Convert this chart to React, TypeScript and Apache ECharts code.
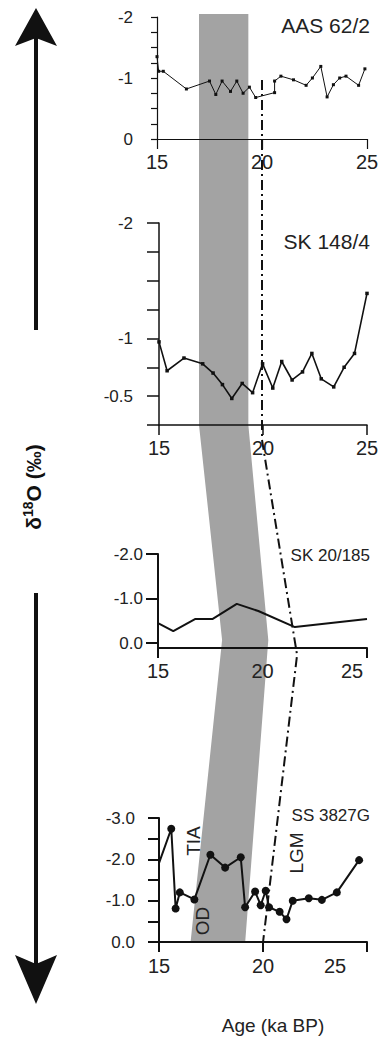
import React, { useEffect, useRef } from 'react';
import * as echarts from 'echarts';

// ---------- data ----------
const ageAAS = [15.0, 15.08, 15.3, 16.4, 17.5, 17.8, 18.1, 18.5, 18.8, 19.1, 19.4, 19.7, 20.6, 20.6, 20.9, 21.5, 22.1, 22.4, 22.8, 23.1, 23.4, 23.7, 24.0, 24.6, 24.9];
const d18OAAS = [-1.35, -1.11, -1.11, -0.82, -0.95, -0.73, -0.95, -0.78, -0.95, -0.75, -0.85, -0.68, -0.76, -0.95, -1.03, -0.97, -0.88, -1.0, -1.19, -0.69, -0.89, -1.0, -1.03, -0.88, -1.15];

const ageSK148 = [15.0, 15.39, 16.2, 17.1, 17.6, 18.05, 18.5, 19.0, 19.5, 19.98, 20.47, 20.9, 21.4, 21.9, 22.35, 22.8, 23.4, 23.9, 24.4, 25.0];
const d18OSK148 = [-0.97, -0.72, -0.83, -0.78, -0.7, -0.6, -0.48, -0.61, -0.53, -0.78, -0.57, -0.8, -0.64, -0.71, -0.87, -0.65, -0.58, -0.75, -0.87, -1.39];

const ageSK20 = [15.0, 15.73, 16.77, 17.6, 18.77, 19.8, 21.55, 25.0];
const d18OSK20 = [-0.45, -0.27, -0.54, -0.54, -0.88, -0.72, -0.36, -0.54];

const ageSS = [15.0, 15.59, 15.8, 16.0, 16.7, 17.47, 18.18, 18.93, 19.14, 19.62, 19.89, 20.13, 20.29, 20.8, 21.13, 21.43, 22.2, 22.83, 23.55, 24.62];
const d18OSS = [-1.91, -2.74, -0.81, -1.2, -1.03, -2.11, -1.8, -2.05, -0.84, -1.22, -0.89, -1.24, -0.84, -0.73, -0.55, -1.0, -1.06, -1.02, -1.2, -1.98];

const coreNames = ['AAS 62/2', 'SK 148/4', 'SK 20/185', 'SS 3827G'];
const xTickLabels = [15, 20, 25];
const yTicks1 = [-2, -1.75, -1.5, -1.25, -1, -0.75, -0.5, -0.25, 0];
const yLabels1 = [-2, -1, 0];
const yTicks2 = [-2, -1.75, -1.5, -1.25, -1, -0.75, -0.5, -0.25];
const yLabels2 = [-2, -1, -0.5];
const yTicks3 = [-2, -1, 0];
const yTicks4 = [-3, -2.5, -2, -1.5, -1, -0.5, 0];
const yLabels4 = [-3, -2, -1, 0];

// shaded TIA/OD band and LGM line (ages), with their vertical layout anchors
const bandLeftAge = [17.0, 17.0, 18.1, 16.6];
const bandRightAge = [19.35, 19.35, 20.3, 19.2];
const bandY = [14, 425, 640, 942];
const lgmAge = [20.0, 20.0, 21.67, 20.05];
const lgmY = [80, 440, 655, 942];

const FONT = '"Liberation Sans", Arial, Helvetica, sans-serif';
const INK = '#111';

function xAxis(gridIndex: number, ticks: number[], lw: number, shift25: number, labelMargin: number) {
  return {
    type: 'value',
    gridIndex,
    min: 15,
    max: 25,
    axisLine: { show: true, onZero: false, lineStyle: { color: INK, width: lw } },
    axisTick: { show: true, length: 10, customValues: ticks, lineStyle: { color: INK, width: lw } },
    axisLabel: {
      customValues: xTickLabels,
      margin: labelMargin,
      fontSize: 20,
      fontFamily: FONT,
      color: '#222',
      formatter: (v: number) => (v === 25 && shift25 > 0 ? '{s|25}' : String(v)),
      rich: { s: { fontSize: 20, fontFamily: FONT, color: '#222', padding: [0, shift25 * 2, 0, 0] } },
    },
    splitLine: { show: false },
  };
}

function yAxis(gridIndex: number, min: number, max: number, ticks: number[], labels: number[], tickLen: number, margin: number, lw: number, fixed: boolean) {
  return {
    type: 'value',
    gridIndex,
    min,
    max,
    inverse: true,
    axisLine: { show: true, onZero: false, lineStyle: { color: INK, width: lw } },
    axisTick: { show: true, length: tickLen, customValues: ticks, lineStyle: { color: INK, width: lw } },
    axisLabel: {
      customValues: labels,
      margin,
      fontSize: 17,
      fontFamily: FONT,
      color: '#222',
      formatter: (v: number) => (fixed ? v.toFixed(1) : String(v)),
    },
    splitLine: { show: false },
  };
}

const zip = (a: number[], b: number[]) => a.map((x, i) => [x, b[i]]);

export default function App() {
  const ref = useRef<HTMLDivElement>(null);
  useEffect(() => {
    document.body.style.margin = '0';
    const el = ref.current!;
    const chart = echarts.init(el, undefined, { renderer: 'svg' });
    chart.setOption({
      animation: false,
      backgroundColor: '#fff',
      grid: [
        { left: 157, top: 17, width: 210, height: 122 },
        { left: 159, top: 223, width: 208, height: 202 },
        { left: 158, top: 554, width: 209, height: 94 },
        { left: 159, top: 818, width: 208, height: 124 },
      ],
      xAxis: [
        xAxis(0, [15, 20, 25], 1.2, 0, 13),
        xAxis(1, [15, 20, 25], 1.5, 0, 13),
        xAxis(2, [15, 25], 2, 15, 13),
        xAxis(3, [15, 20, 25], 2, 32, 14),
      ],
      yAxis: [
        yAxis(0, -2, 0, yTicks1, yLabels1, 6, 24, 1.2, false),
        yAxis(1, -2, -0.25, yTicks2, yLabels2, 12, 26, 1.5, false),
        yAxis(2, -2, 0.11, yTicks3, yTicks3, 12, 15, 2, true),
        yAxis(3, -3, 0, yTicks4, yLabels4, 11, 24, 2, true),
      ],
      series: [
        {
          type: 'line', xAxisIndex: 0, yAxisIndex: 0, data: zip(ageAAS, d18OAAS),
          symbol: 'rect', symbolSize: 3, showAllSymbol: true,
          lineStyle: { color: INK, width: 1 }, itemStyle: { color: INK }, z: 5,
        },
        {
          type: 'line', xAxisIndex: 1, yAxisIndex: 1, data: zip(ageSK148, d18OSK148),
          symbol: 'rect', symbolSize: 3.5, showAllSymbol: true,
          lineStyle: { color: INK, width: 1.6 }, itemStyle: { color: INK }, z: 5,
        },
        {
          type: 'line', xAxisIndex: 2, yAxisIndex: 2, data: zip(ageSK20, d18OSK20),
          symbol: 'none', lineStyle: { color: INK, width: 2 }, z: 5,
        },
        {
          type: 'line', xAxisIndex: 3, yAxisIndex: 3,
          data: ageSS.map((a, i) => (i === 0 ? { value: [a, d18OSS[i]], symbol: 'none' } : [a, d18OSS[i]])),
          symbol: 'circle', symbolSize: 8, showAllSymbol: true,
          lineStyle: { color: INK, width: 2 }, itemStyle: { color: INK }, z: 5,
        },
      ],
    });

    const px = (a: number) => chart.convertToPixel({ xAxisIndex: 0 }, a) as unknown as number;
    const bandPts: number[][] = [];
    bandLeftAge.forEach((a, i) => bandPts.push([px(a), bandY[i]]));
    for (let i = bandRightAge.length - 1; i >= 0; i--) bandPts.push([px(bandRightAge[i]), bandY[i]]);
    const lgmPts = lgmAge.map((a, i) => [px(a), lgmY[i]]);

    const titleY = [25, 241, 555, 815];
    const titleSize = [21, 21, 17, 17];
    const tStyle = (s: number) => ({ fontFamily: FONT, fontSize: s, fill: '#222' });

    chart.setOption({
      graphic: [
        { type: 'polygon', z: -10, shape: { points: bandPts }, style: { fill: '#a3a3a3' } },
        { type: 'polyline', z: 20, shape: { points: lgmPts }, style: { stroke: INK, lineWidth: 2, lineDash: [10, 4, 2, 4], fill: null } },
        ...coreNames.map((n, i) => ({
          type: 'text', x: 370, y: titleY[i], z: 30,
          style: { ...tStyle(titleSize[i]), text: n, textAlign: 'right', textVerticalAlign: 'middle' },
        })),
        { type: 'text', x: 193, y: 841, rotation: Math.PI / 2, z: 30, style: { ...tStyle(19), text: 'TIA', textAlign: 'center', textVerticalAlign: 'middle' } },
        { type: 'text', x: 202, y: 921, rotation: Math.PI / 2, z: 30, style: { ...tStyle(19), text: 'OD', textAlign: 'center', textVerticalAlign: 'middle' } },
        { type: 'text', x: 296, y: 853, rotation: Math.PI / 2, z: 30, style: { ...tStyle(19), text: 'LGM', textAlign: 'center', textVerticalAlign: 'middle' } },
        { type: 'text', x: 273, y: 1025, z: 30, style: { ...tStyle(19), text: 'Age (ka BP)', textAlign: 'center', textVerticalAlign: 'middle' } },
        // arrows
        { type: 'rect', z: 30, shape: { x: 34, y: 36, width: 4, height: 294 }, style: { fill: INK } },
        { type: 'polygon', z: 30, shape: { points: [[36, 8], [57, 46], [36, 38], [15, 46]] }, style: { fill: INK } },
        { type: 'rect', z: 30, shape: { x: 34, y: 593, width: 4, height: 380 }, style: { fill: INK } },
        { type: 'polygon', z: 30, shape: { points: [[36, 1004], [57, 955], [36, 964], [15, 955]] }, style: { fill: INK } },
        {
          type: 'text', x: 33, y: 487, rotation: Math.PI / 2, z: 30,
          style: {
            text: '{d|δ}{s|18}{d|O (‰)}',
            textAlign: 'center', textVerticalAlign: 'middle',
            rich: {
              d: { fontFamily: FONT, fontSize: 21, fontWeight: 'bold', fill: '#111' },
              s: { fontFamily: FONT, fontSize: 14, fontWeight: 'bold', fill: '#111', padding: [0, 0, 10, 0] },
            },
          },
        },
      ],
    });
    return () => chart.dispose();
  }, []);
  return <div ref={ref} style={{ width: 383, height: 1042 }} />;
}
